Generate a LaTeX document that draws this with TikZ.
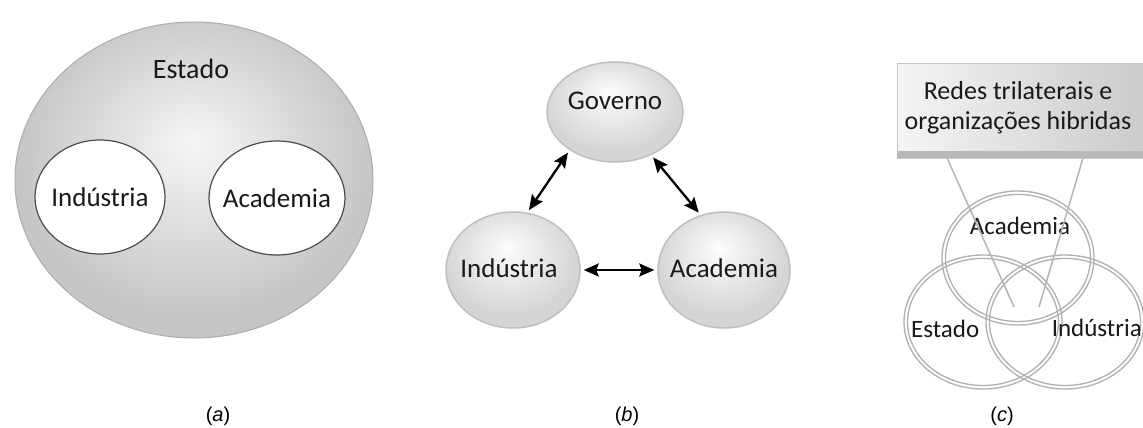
\documentclass[tikz,border=0pt]{standalone}
\usepackage{fontspec}
\setmainfont{Carlito}
\newfontfamily\capfont{Liberation Sans}
\usetikzlibrary{shapes.geometric,arrows.meta}

% shadings: soft grey disc (a), glossy balls (b)
\pgfdeclareradialshading{statefill}{\pgfpoint{0bp}{6bp}}{color(0bp)=(gray!7); color(25bp)=(gray!45); color(50bp)=(gray!45)}
\pgfdeclareradialshading{ballfill}{\pgfpoint{-2bp}{10bp}}{color(0bp)=(gray!2); color(25bp)=(gray!33); color(50bp)=(gray!33)}

\tikzset{
  word/.style={font=\fontsize{27}{32}\selectfont, text=black!90, inner sep=0pt},
  smallword/.style={font=\fontsize{25}{30}\selectfont, text=black!90, inner sep=0pt},
  capstyle/.style={font=\capfont\fontsize{20}{23}\selectfont, text=black, inner sep=0pt},
  statedisc/.style={ellipse, draw=gray!65, line width=1pt, shading=statefill, inner sep=0pt},
  whiteell/.style={ellipse, draw=black!70, line width=1.2pt, fill=white, inner sep=0pt},
  ball/.style={ellipse, draw=gray!50, line width=1.5pt, shading=ballfill, inner sep=0pt},
  tip/.tip={Stealth[length=15pt,width=13pt,inset=2.5pt]},
  biarrow/.style={tip-tip, line width=2.3pt, black, shorten <=3pt, shorten >=3pt},
  vennring/.style={ellipse, draw=gray!62, line width=1.3pt, inner sep=0pt},
  vennin/.style={draw=gray!62, line width=1.3pt},
  feeder/.style={draw=gray!58, line width=1.5pt},
}

\begin{document}
\begin{tikzpicture}[x=1pt,y=-1pt]
\clip (0,0) rectangle (1143,428);
\fill[white] (0,0) rectangle (1143,428);

% ---------- (a) ----------
\node[statedisc, minimum width=358pt, minimum height=316pt] (estado) at (194,180) {};
\node[word, font=\fontsize{28}{32}\selectfont] (estadotxt) at (191,69) {Estado};
\node[whiteell, minimum width=130pt, minimum height=114pt] (inda) at (100,197) {};
\node[word] (indatxt) at (inda.center) {Indústria};
\node[whiteell, minimum width=136pt, minimum height=114pt] (acada) at (277,198) {};
\node[word] (acadatxt) at (acada.center) {Academia};

% ---------- (b) ----------
\node[ball, minimum width=136pt, minimum height=100pt] (gov) at (615,112) {};
\node[word] (govtxt) at (615,101) {Governo};
\node[ball, minimum width=134pt, minimum height=116pt] (indb) at (513,270) {};
\node[word] (indbtxt) at (509,268) {Indústria};
\node[ball, minimum width=132pt, minimum height=116pt] (acadb) at (724,270) {};
\node[word] (acadbtxt) at (724,268) {Academia};

\draw[biarrow] (gov.220) -- (indb.76);
\draw[biarrow] (gov.310) -- (acadb.113);
\draw[biarrow] (indb.east) -- (acadb.west);

% ---------- (c) ----------
\node[vennring, minimum width=152pt, minimum height=134pt] (vacad) at (1018,258) {};
\draw[vennin] (vacad.center) ellipse [x radius=72.5pt, y radius=63.5pt];
\node[vennring, minimum width=158pt, minimum height=134pt] (vest) at (983,322) {};
\draw[vennin] (vest.center) ellipse [x radius=75.5pt, y radius=63.5pt];
\node[vennring, minimum width=158pt, minimum height=134pt] (vind) at (1065,322) {};
\draw[vennin] (vind.center) ellipse [x radius=75.5pt, y radius=63.5pt];

\node[smallword] (vacadtxt) at (1020,226) {Academia};
\node[smallword, anchor=west] (vesttxt) at (911,329) {Estado};
\node[smallword, anchor=east] (vindtxt) at (1142,328) {Indústria};

% box with its darker lower rim
\node[draw=gray!45, line width=0.6pt, left color=gray!8, right color=gray!42,
      minimum width=256pt, minimum height=95pt, inner sep=0pt, anchor=north west] (redes) at (897,63) {};
\fill[gray!55] (897,151) rectangle (1153,158);
\node[smallword, font=\fontsize{26}{30}\selectfont, align=center] (redestxt) at (1018,108)
  {Redes trilaterais e\\organizações hibridas};

\coordinate (fl) at (947,158);
\coordinate (fle) at (1014,307);
\coordinate (fr) at (1083,158);
\coordinate (fre) at (1039,307);
\draw[feeder] (fl) -- (fle);
\draw[feeder] (fr) -- (fre);

% ---------- captions ----------
\node[capstyle] (capa) at (218,416) {(\textit{a})};
\node[capstyle] (capb) at (627,416) {(\textit{b})};
\node[capstyle] (capc) at (1002,416) {(\textit{c})};
\end{tikzpicture}
\end{document}
